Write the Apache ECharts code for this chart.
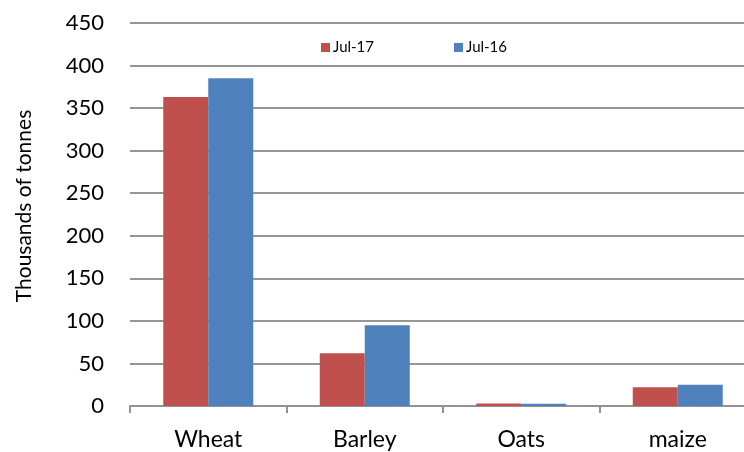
<!DOCTYPE html>
<html>
<head>
<meta charset="utf-8">
<script src="https://cdn.jsdelivr.net/npm/echarts@6/dist/echarts.min.js"></script>
<style>
html,body{margin:0;padding:0;background:#fff;}
#chart{width:744px;height:452px;}
</style>
</head>
<body>
<div id="chart"></div>
<script>
const categories = ['Wheat', 'Barley', 'Oats', 'maize'];
const jul17 = [363, 62, 3, 22];
const jul16 = [385, 95, 2.5, 25];
const seriesNames = ['Jul-17', 'Jul-16'];
const yTicks = [0, 50, 100, 150, 200, 250, 300, 350, 400, 450];
const yTitle = 'Thousands of tonnes';

const FONT = 'Lato';
const chart = echarts.init(document.getElementById('chart'), null, {renderer: 'canvas'});
chart.setOption({
  animation: false,
  backgroundColor: '#ffffff',
  textStyle: {fontFamily: FONT},
  legend: {
    data: seriesNames,
    left: 316,
    top: 35,
    itemWidth: 9,
    itemHeight: 9,
    itemGap: 80,
    icon: 'rect',
    textStyle: {fontFamily: FONT, fontSize: 15, color: '#000', padding: [0,0,0,-2]}
  },
  graphic: [{
    type: 'text',
    x: 24, y: 206,
    rotation: Math.PI / 2,
    style: {text: yTitle, fontFamily: FONT, fontSize: 21, fill: '#000', align: 'center', verticalAlign: 'middle'}
  }],
  grid: {left: 130, top: 23, width: 626, height: 383, containLabel: false, outerBoundsMode: 'none'},
  xAxis: {
    type: 'category',
    data: categories,
    axisLine: {show: true, lineStyle: {color: '#929292', width: 2}},
    axisTick: {show: true, length: 7, lineStyle: {color: '#929292', width: 2}},
    axisLabel: {fontFamily: FONT, fontSize: 23, color: '#000', margin: 22}
  },
  yAxis: {
    type: 'value',
    min: yTicks[0],
    max: yTicks[yTicks.length - 1],
    interval: 50,
    axisLine: {show: false},
    axisTick: {show: false},
    axisLabel: {fontFamily: FONT, fontSize: 22, color: '#000', margin: 26},
    splitLine: {show: true, lineStyle: {color: '#969696', width: 2}}
  },
  series: [
    {
      name: seriesNames[0], type: 'bar', data: jul17,
      barWidth: 45, barGap: '0%',
      itemStyle: {color: '#C0504D'}
    },
    {
      name: seriesNames[1], type: 'bar', data: jul16,
      barWidth: 45, barGap: '0%',
      itemStyle: {color: '#4F81BD'}
    }
  ]
});
</script>
</body>
</html>
